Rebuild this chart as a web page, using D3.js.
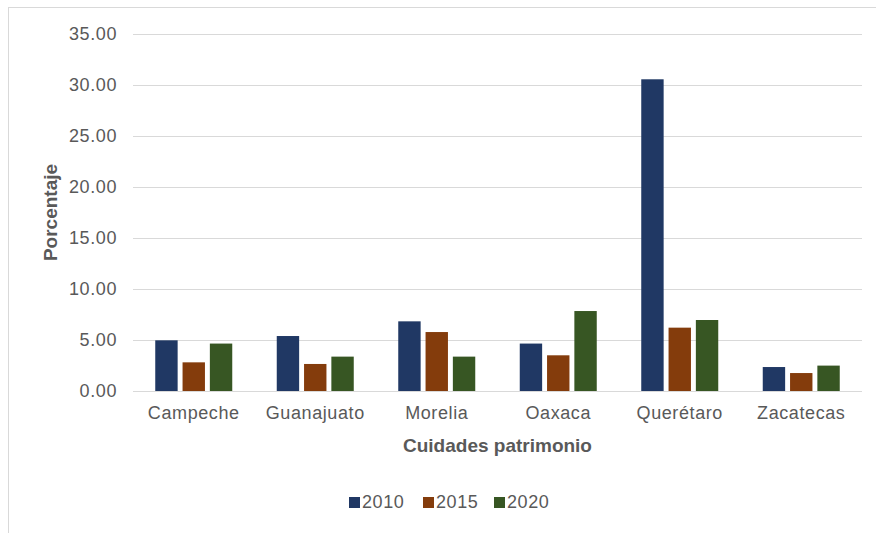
<!DOCTYPE html>
<html>
<head>
<meta charset="utf-8">
<script src="https://cdn.jsdelivr.net/npm/d3@7"></script>
<style>
  html, body { margin: 0; padding: 0; background: #fff; }
  svg { display: block; }
  text { font-family: "Liberation Sans", Arial, sans-serif; fill: #595959; }
</style>
</head>
<body>
<svg id="chart" width="876" height="533"></svg>
<script>
// Cities, years and percentages per year
const cities = ["Campeche", "Guanajuato", "Morelia", "Oaxaca", "Querétaro", "Zacatecas"];
const years = ["2010", "2015", "2020"];
const values2010 = [4.97, 5.39, 6.83, 4.65, 30.56, 2.35];
const values2015 = [2.81, 2.65, 5.78, 3.50, 6.21, 1.76];
const values2020 = [4.65, 3.37, 3.37, 7.84, 6.96, 2.49];
const yTicks = [0, 5, 10, 15, 20, 25, 30, 35];
const colors = ["#203864", "#843c0c", "#375623"];

const seriesValues = [values2010, values2015, values2020];
const rows = cities.map((c, i) => ({
  city: c,
  vals: years.map((yr, j) => ({ year: yr, value: seriesValues[j][i], color: colors[j] }))
}));

const svg = d3.select("#chart");

// outer frame
svg.append("rect")
  .attr("x", 8.5).attr("y", 7.5)
  .attr("width", 900).attr("height", 600)
  .attr("fill", "none").attr("stroke", "#d9d9d9").attr("stroke-width", 1);

const plotL = 133, plotR = 862, plotT = 34, plotB = 391;

const x0 = d3.scaleBand().domain(cities).range([plotL, plotR]).padding(0);
const groupW = 77;
const x1 = d3.scaleBand().domain(years)
  .range([(x0.bandwidth() - groupW) / 2, (x0.bandwidth() + groupW) / 2])
  .paddingInner(0.18);
const y = d3.scaleLinear().domain([0, 35]).range([plotB, plotT]);

// gridlines
const grid = d3.axisLeft(y).tickValues(yTicks).tickSize(-(plotR - plotL)).tickFormat("");
svg.append("g")
  .attr("transform", `translate(${plotL},0)`)
  .call(grid)
  .call(g => g.select(".domain").remove())
  .call(g => g.selectAll("line").attr("stroke", "#d9d9d9").attr("stroke-width", 1));

// y tick labels
const yAxis = d3.axisLeft(y).tickValues(yTicks).tickSize(0).tickPadding(16)
  .tickFormat(d3.format(".2f"));
svg.append("g")
  .attr("transform", `translate(${plotL},0)`)
  .call(yAxis)
  .call(g => g.select(".domain").remove())
  .call(g => g.selectAll("text")
    .style("font-family", "'Liberation Sans', Arial, sans-serif")
    .style("font-size", "18px").style("letter-spacing", "0.6px")
    .attr("fill", "#595959"));

// bars
const groups = svg.append("g").selectAll("g")
  .data(rows).join("g")
  .attr("transform", d => `translate(${x0(d.city)},0)`);
groups.selectAll("rect")
  .data(d => d.vals).join("rect")
  .attr("x", d => x1(d.year))
  .attr("width", x1.bandwidth())
  .attr("y", d => y(d.value))
  .attr("height", d => y(0) - y(d.value))
  .attr("fill", d => d.color);

// x category labels
const xAxis = d3.axisBottom(x0).tickSize(0).tickPadding(15);
svg.append("g")
  .attr("transform", `translate(0,${plotB})`)
  .call(xAxis)
  .call(g => g.select(".domain").remove())
  .call(g => g.selectAll("text")
    .style("font-family", "'Liberation Sans', Arial, sans-serif")
    .style("font-size", "18px").style("letter-spacing", "0.6px")
    .attr("fill", "#595959"));

// axis titles
svg.append("text")
  .attr("x", (plotL + plotR) / 2).attr("y", 452)
  .attr("text-anchor", "middle")
  .style("font-size", "19px").style("font-weight", "bold")
  .text("Cuidades patrimonio");

svg.append("text")
  .attr("transform", `translate(57,${(plotT + plotB) / 2}) rotate(-90)`)
  .attr("text-anchor", "middle")
  .style("font-size", "19px").style("font-weight", "bold")
  .text("Porcentaje");

// legend
const legendX = [349, 423, 494];
const legend = svg.append("g").selectAll("g")
  .data(years).join("g")
  .attr("transform", (d, i) => `translate(${legendX[i]},497)`);
legend.append("rect")
  .attr("width", 11).attr("height", 11)
  .attr("fill", (d, i) => colors[i]);
legend.append("text")
  .attr("x", 13).attr("y", 11)
  .style("font-size", "18px").style("letter-spacing", "0.6px")
  .text(d => d);
</script>
</body>
</html>
